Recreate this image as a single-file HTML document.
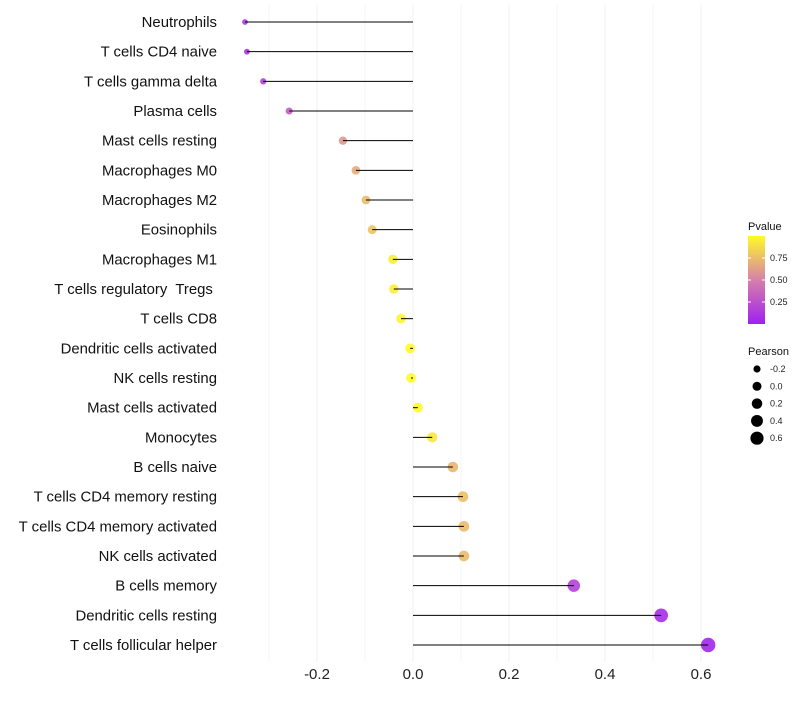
<!DOCTYPE html>
<html><head><meta charset="utf-8"><style>
body{margin:0;background:#fff;font-family:"Liberation Sans",sans-serif}
</style></head><body>
<svg id="chart" width="800" height="700" xmlns="http://www.w3.org/2000/svg"></svg>
<script>
const categories=["Neutrophils","T cells CD4 naive","T cells gamma delta","Plasma cells","Mast cells resting","Macrophages M0","Macrophages M2","Eosinophils","Macrophages M1","T cells regulatory  Tregs ","T cells CD8","Dendritic cells activated","NK cells resting","Mast cells activated","Monocytes","B cells naive","T cells CD4 memory resting","T cells CD4 memory activated","NK cells activated","B cells memory","Dendritic cells resting","T cells follicular helper"];
const pearson=[-0.35,-0.346,-0.312,-0.258,-0.146,-0.119,-0.098,-0.085,-0.042,-0.04,-0.025,-0.006,-0.004,0.01,0.04,0.083,0.104,0.106,0.106,0.335,0.517,0.615];
const pvalue=[0.12,0.1,0.18,0.32,0.6,0.68,0.74,0.78,0.95,0.95,0.98,1.0,1.0,1.0,0.92,0.72,0.76,0.74,0.74,0.18,0.06,0.03];
const xTicks=[-0.2,0,0.2,0.4,0.6];
const xTickLabels=["-0.2","0.0","0.2","0.4","0.6"];
const pTicks=[0.25,0.5,0.75];
const sizeLegend=[-0.2,0,0.2,0.4,0.6];

const NS="http://www.w3.org/2000/svg";
const svg=document.getElementById('chart');
function el(t,a,p){const e=document.createElementNS(NS,t);for(const k in a)e.setAttribute(k,a[k]);(p||svg).appendChild(e);return e;}
const x=v=>413+v*480;
const y=i=>22+i*(623/21);
function rad(p){return Math.sqrt(Math.max(3,24+45*p));}
function lerp(a,b,t){return a.map((v,i)=>Math.round(v+(b[i]-v)*t));}
function col(p){const s=[[160,32,240],[214,128,170],[255,250,40]];let c=p<0.5?lerp(s[0],s[1],p/0.5):lerp(s[1],s[2],(p-0.5)/0.5);return `rgb(${c.join(',')})`;}

for(let k=-3;k<=6;k++){const v=k/10;const g=el('line',{x1:x(v),x2:x(v),y1:5,y2:662,stroke:'#f0f0f0','stroke-width':k%2===0?1:0.6});

}
xTicks.forEach((v,i)=>{const t=el('text',{x:x(v),y:679,'text-anchor':'middle','font-size':15,fill:'#222'});t.textContent=xTickLabels[i];

});
categories.forEach((c,i)=>{
const t=el('text',{x:217,y:y(i)+5,'text-anchor':'end','font-size':14.9,fill:'#111',style:'white-space:pre'});t.textContent=c;


const pt=el('circle',{cx:x(pearson[i]),cy:y(i),r:rad(pearson[i]),fill:col(pvalue[i]),'fill-opacity':0.9});


const s=el('line',{x1:x(0),x2:x(pearson[i]),y1:y(i),y2:y(i),stroke:'#000','stroke-width':1});


});
const defs=el('defs',{});const lg=el('linearGradient',{id:'pg',x1:0,y1:1,x2:0,y2:0},defs);
[0,0.25,0.5,0.75,1].forEach(o=>el('stop',{offset:o,'stop-color':col(o)},lg));
const lt=el('text',{x:748,y:230,'font-size':11,fill:'#111'});lt.textContent='Pvalue';


const cb=el('rect',{x:748,y:236,width:17,height:88,fill:'url(#pg)'});


pTicks.forEach(p=>{const yy=324-p*88;el('line',{x1:748,x2:751,y1:yy,y2:yy,stroke:'#fff'});el('line',{x1:762,x2:765,y1:yy,y2:yy,stroke:'#fff'});
const t=el('text',{x:770,y:yy+3,'font-size':9,fill:'#222'});t.textContent=p.toFixed(2);

});
const st=el('text',{x:748,y:355,'font-size':11,fill:'#111'});st.textContent='Pearson';


sizeLegend.forEach((v,i)=>{const yy=369+i*17.3;const c=el('circle',{cx:757,cy:yy,r:rad(v)*0.92,fill:'#000'});


const t=el('text',{x:770,y:yy+3,'font-size':9,fill:'#222'});t.textContent=v.toFixed(1);

});
</script>
</body></html>
